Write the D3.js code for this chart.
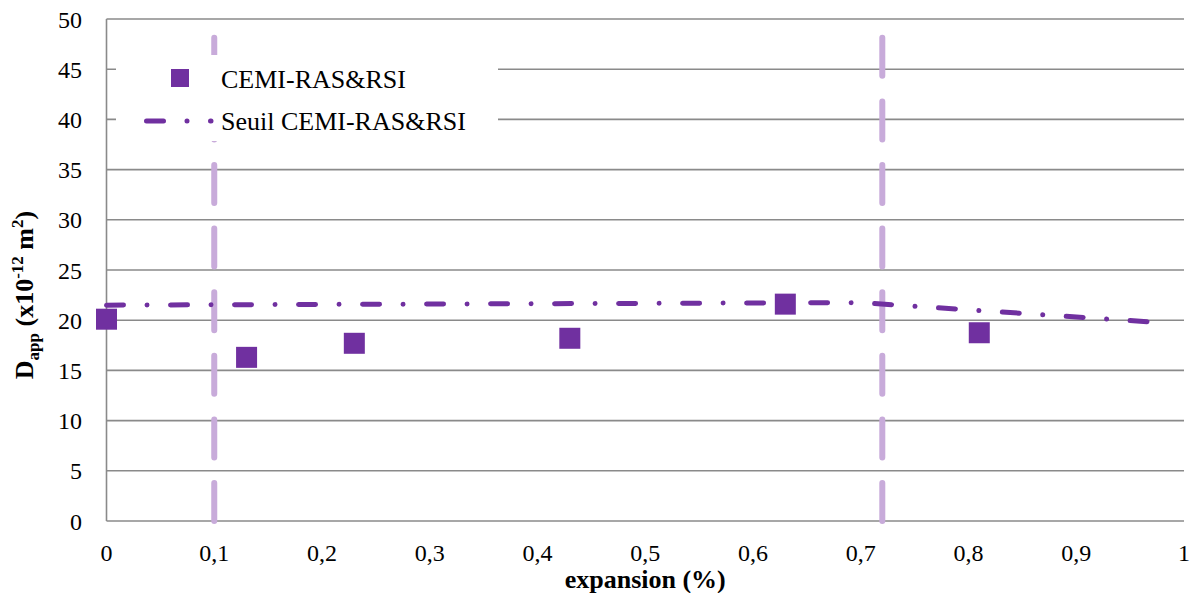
<!DOCTYPE html>
<html>
<head>
<meta charset="utf-8">
<script src="https://cdn.jsdelivr.net/npm/d3@7"></script>
<style>
  html, body { margin: 0; padding: 0; background: #fff; }
  svg { display: block; }
</style>
</head>
<body>
<svg id="chart" width="1192" height="593" font-family="'Liberation Serif', 'Times New Roman', Times, 'DejaVu Serif', serif"></svg>
<script>
// ---- data ----
const expansion = [0, 0.13, 0.23, 0.43, 0.63, 0.81];
const dapp = [20.1, 16.3, 17.7, 18.2, 21.6, 18.75];
const seuilX = [0, 0.7, 0.98];
const seuilY = [21.5, 21.75, 19.75];
const limitX = [0.1, 0.72];
const limitTop = 48.5;
const yTicks = [0, 5, 10, 15, 20, 25, 30, 35, 40, 45, 50];
const xTicks = [0, 0.1, 0.2, 0.3, 0.4, 0.5, 0.6, 0.7, 0.8, 0.9, 1];
const seriesName = "CEMI-RAS&RSI";
const seuilName = "Seuil CEMI-RAS&RSI";

const purple = "#7030a0";
const lightPurple = "#c8abda";
const gridColor = "#8a8a8a";

const svg = d3.select("#chart");
const x = d3.scaleLinear().domain([0, 1]).range([106.5, 1184]);
const y = d3.scaleLinear().domain([0, 50]).range([521, 19]);
const fmt = d => String(d).replace(".", ",");

// gridlines
svg.append("g").selectAll("line").data(yTicks.filter(d => d > 0)).join("line")
  .attr("x1", x(0)).attr("x2", x(1))
  .attr("y1", d => y(d)).attr("y2", d => y(d))
  .attr("stroke", gridColor).attr("stroke-width", 1.6);

// axes lines
svg.append("line").attr("x1", x(0)).attr("x2", x(0)).attr("y1", y(0)).attr("y2", y(50))
  .attr("stroke", gridColor).attr("stroke-width", 1.6);
svg.append("line").attr("x1", x(0)).attr("x2", x(1)).attr("y1", y(0)).attr("y2", y(0))
  .attr("stroke", gridColor).attr("stroke-width", 1.6);

// tick labels
svg.append("g").selectAll("text").data(yTicks).join("text")
  .attr("x", 82).attr("y", d => y(d) + 8.5)
  .attr("text-anchor", "end").attr("font-size", 24).text(d => d);
svg.append("g").selectAll("text").data(xTicks).join("text")
  .attr("x", d => x(d)).attr("y", 561)
  .attr("text-anchor", "middle").attr("font-size", 24).text(fmt);

// vertical limit lines
svg.append("g").selectAll("line").data(limitX).join("line")
  .attr("x1", d => x(d)).attr("x2", d => x(d))
  .attr("y1", y(0)).attr("y2", y(limitTop))
  .attr("stroke", lightPurple).attr("stroke-width", 6)
  .attr("stroke-linecap", "round").attr("stroke-dasharray", "38 25.6");

// seuil line
const seuilData = seuilX.map((d, i) => [d, seuilY[i]]);
svg.append("path").datum(seuilData)
  .attr("d", d3.line().x(d => x(d[0])).y(d => y(d[1])))
  .attr("fill", "none").attr("stroke", purple).attr("stroke-width", 5)
  .attr("stroke-linecap", "round").attr("stroke-dasharray", "17 23.5 0.01 23.5");

// points
const sz = 21;
svg.append("g").selectAll("rect").data(expansion.map((d, i) => [d, dapp[i]])).join("rect")
  .attr("x", d => x(d[0]) - sz / 2).attr("y", d => y(d[1]) - sz / 2)
  .attr("width", sz).attr("height", sz).attr("fill", purple);

// legend
const lg = svg.append("g");
lg.append("rect").attr("x", 116).attr("y", 55).attr("width", 382).attr("height", 86).attr("fill", "#fff");
lg.append("rect").attr("x", 171).attr("y", 69).attr("width", 18).attr("height", 18).attr("fill", purple);
lg.append("text").attr("x", 221).attr("y", 88).attr("font-size", 26).text(seriesName);
lg.append("path").attr("d", "M146.5,121L211,121")
  .attr("fill", "none").attr("stroke", purple).attr("stroke-width", 5)
  .attr("stroke-linecap", "round").attr("stroke-dasharray", "17 23.5 0.01 23.5");
lg.append("text").attr("x", 221).attr("y", 130).attr("font-size", 26).text(seuilName);

// axis titles
svg.append("text").attr("x", x(0.5)).attr("y", 588)
  .attr("text-anchor", "middle").attr("font-size", 26).attr("font-weight", "bold")
  .text("expansion (%)");

const yt = svg.append("text")
  .attr("transform", "translate(33,295) rotate(-90)")
  .attr("text-anchor", "middle").attr("font-size", 26).attr("font-weight", "bold");
yt.append("tspan").text("D");
yt.append("tspan").attr("font-size", 17).attr("dy", 6).text("app");
yt.append("tspan").attr("dy", -6).text(" (x10");
yt.append("tspan").attr("font-size", 17).attr("dy", -10).text("-12");
yt.append("tspan").attr("dy", 10).text(" m");
yt.append("tspan").attr("font-size", 17).attr("dy", -10).text("2");
yt.append("tspan").attr("dy", 10).text(")");
</script>
</body>
</html>
